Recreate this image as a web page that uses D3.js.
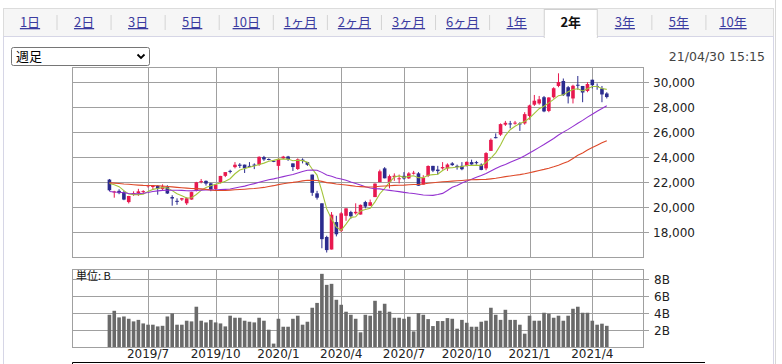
<!DOCTYPE html>
<html>
<head>
<meta charset="utf-8">
<script src="https://cdn.jsdelivr.net/npm/d3@7"></script>
<style>
  body { margin: 0; background: #fff; }
  svg { display: block; }
</style>
</head>
<body>
<svg id="chart"></svg>
<script>
// weekly candles, Nikkei 225, 2019/5 - 2021/4
const weeks = d3.timeMonday.range(new Date(2019, 4, 6), new Date(2021, 4, 1));

const opens = [
  22200, 21200, 21300, 21200, 20400, 21100, 21100, 21250, 21700, 21620,
  21700, 21450, 21600, 20800, 20500, 20600, 20300, 20600, 21300, 22000,
  22100, 21900, 21450, 22000, 22500, 22900, 23200, 23400, 23400, 23300,
  23400, 23400, 24000, 23850, 23700, 23300, 23900, 24050, 23500, 23050,
  23800, 23600, 22600, 21100, 20300, 17600, 16600, 18800, 18100, 19300,
  19600, 19500, 19400, 20400, 20100, 20800, 22000, 23100, 22000, 22400,
  22300, 22500, 22300, 22700, 22700, 21800, 22500, 23300, 23000, 23100,
  23100, 23500, 23300, 23300, 23300, 23600, 23600, 23400, 23100, 24500,
  25600, 25800, 26600, 26700, 26700, 26700, 26700, 27300, 28200, 28300,
  28800, 27700, 28800, 29700, 30100, 29600, 28700, 29800, 29700, 29300,
  30200, 29700, 29500, 29100
];
const highs = [
  22250, 21300, 21430, 21300, 20900, 21260, 21460, 21350, 21780, 21700,
  21750, 21820, 21750, 20950, 20700, 20730, 20780, 21220, 22020, 22250,
  22130, 21950, 21800, 22500, 22800, 22990, 23600, 23520, 23400, 23600,
  23500, 24070, 24100, 23900, 23700, 23900, 24100, 24100, 23500, 23900,
  23900, 23600, 22600, 21300, 20300, 17700, 19600, 19300, 19600, 19900,
  19700, 20300, 20200, 20500, 20600, 21900, 23000, 23200, 22600, 22700,
  22600, 22800, 22800, 22900, 22800, 22550, 23340, 23300, 23300, 23600,
  23500, 23600, 23400, 23600, 23650, 23800, 23700, 23500, 24400, 25500,
  25900, 26700, 26900, 26900, 26900, 26800, 27600, 28200, 28980, 28900,
  28900, 28800, 29600, 30714, 30300, 29700, 29800, 30500, 29700, 30000,
  30200, 29900, 29700, 29200
];
const lows = [
  21280, 20750, 21030, 20550, 20290, 20900, 20900, 21060, 21560, 21400,
  20990, 21330, 21050, 20110, 20180, 20490, 20170, 20590, 21250, 21900,
  21720, 21270, 21280, 21900, 22400, 22700, 23100, 23130, 22730, 23250,
  23040, 23300, 23700, 23750, 23600, 22950, 23850, 23700, 22890, 22970,
  23500, 23300, 20900, 20600, 16700, 16358, 16600, 17650, 18000, 18900,
  19060, 19400, 19400, 19900, 20100, 20800, 22000, 22300, 21500, 22100,
  21900, 22200, 22250, 22600, 21710, 21800, 22400, 22800, 22600, 23000,
  22900, 23300, 23000, 22950, 23250, 23400, 23400, 22950, 22950, 24500,
  25500, 25700, 26500, 26300, 26600, 26100, 26600, 27000, 28100, 28200,
  27600, 27600, 28700, 29600, 28900, 28300, 28300, 29400, 28400, 29200,
  29500, 29400, 28400, 28700
];
const closes = [
  21345, 21250, 21117, 20601, 20885, 21117, 21259, 21276, 21746, 21686,
  21467, 21658, 21087, 20685, 20419, 20711, 20704, 21200, 21988, 22079,
  21879, 21410, 21799, 22493, 22800, 22851, 23392, 23303, 23113, 23294,
  23354, 24023, 23817, 23838, 23657, 23851, 24041, 23827, 23205, 23828,
  23688, 23387, 21143, 20750, 17431, 16553, 19389, 17820, 19499, 19897,
  19262, 19619, 20179, 20037, 20388, 21878, 22864, 22305, 22479, 22512,
  22306, 22291, 22696, 22752, 21710, 22330, 23289, 22920, 22883, 23205,
  23406, 23360, 23205, 23030, 23620, 23411, 23517, 22977, 24325, 25386,
  25527, 26645, 26751, 26653, 26763, 26657, 27444, 28139, 28519, 28631,
  27663, 28779, 29520, 30018, 28966, 28864, 29718, 29792, 29177, 29854,
  29768, 29683, 29021, 28813
];
// closes of the 51 weeks before the window, needed for the moving averages
const prevCloses = [
  22758, 22930, 22450, 22171, 22694, 22851, 22516, 22304, 21788, 22597,
  22697, 22712, 22525, 22298, 22270, 22601, 22865, 22307, 23094, 23869,
  24120, 23783, 22694, 22532, 21184, 22243, 22250, 21680, 21646, 22351,
  21679, 21374, 20166, 20014, 19561, 20359, 20666, 20773, 20788, 20333,
  20900, 21425, 21602, 21025, 21450, 21627, 21205, 21807, 21870, 22200,
  22258
];
// volume, billions
const volumes = [
  3.8, 4.27, 3.49, 3.6, 3.33, 3.02, 3.2, 2.78, 2.63, 2.63,
  2.43, 2.5, 3.6, 3.96, 2.63, 2.63, 3.1, 3.02, 4.75, 3.1,
  2.9, 3.2, 2.9, 2.78, 2.43, 3.69, 3.45, 3.45, 3.1, 2.98,
  2.9, 3.45, 3.1, 2.04, 0.4, 3.33, 2.39, 2.39, 3.33, 3.69,
  2.63, 2.98, 4.63, 5.2, 8.63, 7.33, 7.45, 5.57, 4.98, 4.16,
  3.8, 3.33, 1.73, 3.8, 3.69, 5.45, 4.27, 5.1, 4.16, 3.45,
  3.45, 3.33, 3.57, 1.84, 4.0, 3.8, 3.29, 2.47, 3.06, 3.06,
  3.41, 3.33, 2.16, 3.2, 2.86, 2.39, 2.39, 2.98, 3.1, 4.63,
  3.8, 3.2, 4.39, 3.2, 3.2, 2.63, 1.57, 3.69, 3.1, 3.1,
  4.04, 3.92, 3.45, 3.69, 3.1, 3.69, 4.51, 4.75, 4.04, 4.04,
  3.1, 2.63, 2.75, 2.5
];

const maPeriods = [5, 26, 52];
const maColors = ['#a3c43a', '#9432d0', '#de4a2a'];

const priceTicks = [18000, 20000, 22000, 24000, 26000, 28000, 30000];
const volTicks = [2, 4, 6, 8];
const monthTicks = ['2019/7', '2019/10', '2020/1', '2020/4', '2020/7', '2020/10', '2021/1', '2021/4'];
const tabs = ['1日', '2日', '3日', '5日', '10日', '1ヶ月', '2ヶ月', '3ヶ月', '6ヶ月', '1年', '2年', '3年', '5年', '10年'];
const activeTab = '2年';

const W = 782, H = 364;
const svg = d3.select('#chart').attr('width', W).attr('height', H);

const jp = '"Noto Sans CJK JP", sans-serif';
const num = '"DejaVu Sans", Verdana, sans-serif';

// ---- frame and tabs
svg.append('rect').attr('x', 0).attr('y', 0).attr('width', W).attr('height', H).attr('fill', '#fff');
svg.append('rect').attr('x', 3.5).attr('y', 8.5).attr('width', 770).attr('height', 28)
  .attr('fill', '#f6f6f6').attr('stroke', '#dcdcdc');
svg.append('rect').attr('x', 3.5).attr('y', 36.5).attr('width', 770).attr('height', 330)
  .attr('fill', '#fff').attr('stroke', '#d6d6e6');
svg.append('rect').attr('x', 774).attr('y', 0).attr('width', 8).attr('height', H).attr('fill', '#fff');
svg.append('line').attr('x1', 775.5).attr('x2', 775.5).attr('y1', 0).attr('y2', H).attr('stroke', '#d8d8d8');

const tabX = d3.scalePoint().domain(tabs).range([30, 733]);
tabs.forEach((t, i) => {
  const cx = tabX(t);
  if (t === activeTab) {
    svg.append('rect').attr('x', cx - 26.5).attr('y', 9.5).attr('width', 53).attr('height', 28)
      .attr('fill', '#fff').attr('stroke', '#d0d0d0');
    svg.append('rect').attr('x', cx - 26).attr('y', 35).attr('width', 52).attr('height', 3).attr('fill', '#fff');
  } else if (i < tabs.length - 1 && tabs[i + 1] !== activeTab) {
    svg.append('line').attr('x1', cx + 27).attr('x2', cx + 27).attr('y1', 15).attr('y2', 30)
      .attr('stroke', '#d4d4d4');
  }
  svg.append('text').attr('x', cx).attr('y', 27).attr('text-anchor', 'middle')
    .attr('font-family', jp).attr('font-size', 13)
    .attr('font-weight', t === activeTab ? 'bold' : 'normal')
    .attr('fill', t === activeTab ? '#111' : '#3c3ca0')
    .attr('text-decoration', t === activeTab ? 'none' : 'underline')
    .text(t);
});

// select box
svg.append('rect').attr('x', 11.5).attr('y', 47.5).attr('width', 138).attr('height', 18).attr('rx', 2)
  .attr('fill', '#fff').attr('stroke', '#767676');
svg.append('text').attr('x', 16).attr('y', 61).attr('font-family', jp).attr('font-size', 13)
  .attr('fill', '#000').text('週足');
svg.append('path').attr('d', 'M137.5,54.5 L141,58 L144.5,54.5').attr('fill', 'none')
  .attr('stroke', '#000').attr('stroke-width', 1.8);

svg.append('text').attr('x', 765).attr('y', 61).attr('text-anchor', 'end')
  .attr('font-family', num).attr('font-size', 12.5).attr('fill', '#444').text('21/04/30 15:15');

// ---- scales
const left = 72, right = 643;
const x = d3.scaleLinear().domain([-7.75, 110.5]).range([left, right]);
const y = d3.scaleLinear().domain([16000, 31220]).range([257, 67]);
const yv = d3.scaleLinear().domain([0, 9.2]).range([347, 269]);

const tickIdx = monthTicks.map(lbl => {
  const [yy, mm] = lbl.split('/').map(Number);
  return weeks.findIndex(d => d.getFullYear() === yy && d.getMonth() === mm - 1);
});

const grid = '#a0a0a0';
function panel(y0, y1) {
  const g = svg.append('g');
  g.append('rect').attr('x', left + 0.5).attr('y', y0 + 0.5).attr('width', right - left)
    .attr('height', y1 - y0).attr('fill', '#fff').attr('stroke', grid);
  g.selectAll('line.v').data(tickIdx).join('line')
    .attr('x1', d => Math.round(x(d)) + 0.5).attr('x2', d => Math.round(x(d)) + 0.5)
    .attr('y1', y0).attr('y2', y1).attr('stroke', grid);
  return g;
}

// ---- price panel
const gp = panel(67, 257);
gp.selectAll('line.h').data(priceTicks).join('line')
  .attr('x1', left).attr('x2', right + 6)
  .attr('y1', d => Math.round(y(d)) + 0.5).attr('y2', d => Math.round(y(d)) + 0.5)
  .attr('stroke', grid);
gp.selectAll('text').data(priceTicks).join('text')
  .attr('x', 653).attr('y', d => y(d) + 4.5)
  .attr('font-family', num).attr('font-size', 12).attr('fill', '#222')
  .text(d3.format(','));

const candles = weeks.map((d, i) => ({ i, o: opens[i], h: highs[i], l: lows[i], c: closes[i], v: volumes[i] }));
const up = '#e8194f', down = '#2b2b8e';
const bw = 3.6;
const cg = svg.append('g');
cg.selectAll('line').data(candles).join('line')
  .attr('x1', d => x(d.i)).attr('x2', d => x(d.i))
  .attr('y1', d => y(d.h)).attr('y2', d => y(d.l))
  .attr('stroke', d => d.c >= d.o ? up : down).attr('stroke-width', 1);
cg.selectAll('rect').data(candles).join('rect')
  .attr('x', d => x(d.i) - bw / 2).attr('width', bw)
  .attr('y', d => y(Math.max(d.o, d.c)))
  .attr('height', d => Math.max(1, Math.abs(y(d.o) - y(d.c))))
  .attr('fill', d => d.c >= d.o ? up : down);

// moving averages
const allCloses = prevCloses.concat(closes);
const off = prevCloses.length;
maPeriods.forEach((n, k) => {
  const ma = closes.map((_, i) => d3.mean(allCloses.slice(off + i - n + 1, off + i + 1)));
  svg.append('path').datum(ma)
    .attr('d', d3.line().x((_, i) => x(i)).y(v => y(v)))
    .attr('fill', 'none').attr('stroke', maColors[k]).attr('stroke-width', 1.1);
});

// ---- volume panel
const gv = panel(269, 347);
gv.selectAll('line.h').data(volTicks).join('line')
  .attr('x1', left).attr('x2', right + 6)
  .attr('y1', d => Math.round(yv(d)) + 0.5).attr('y2', d => Math.round(yv(d)) + 0.5)
  .attr('stroke', grid);
gv.selectAll('text.t').data(volTicks).join('text')
  .attr('x', 654).attr('y', d => yv(d) + 4.5)
  .attr('font-family', num).attr('font-size', 12).attr('fill', '#222')
  .text(d => d + 'B');
gv.selectAll('rect.bar').data(candles).join('rect')
  .attr('x', d => x(d.i) - 1.8).attr('width', 3.6)
  .attr('y', d => yv(d.v)).attr('height', d => yv(0) - yv(d.v))
  .attr('fill', '#6a6a6a');
svg.append('text').attr('x', 76).attr('y', 280).attr('font-family', jp).attr('font-size', 11)
  .attr('fill', '#111').text('単位: B');

// month labels
svg.append('g').selectAll('text').data(monthTicks).join('text')
  .attr('x', (d, k) => x(tickIdx[k])).attr('y', 358).attr('text-anchor', 'middle')
  .attr('font-family', num).attr('font-size', 12).attr('fill', '#222').text(d => d);

// box below (cut off)
svg.append('path').attr('d', `M${left + 0.5},364 V362.5 H705`).attr('fill', 'none')
  .attr('stroke', '#000').attr('stroke-width', 1);
</script>
</body>
</html>
